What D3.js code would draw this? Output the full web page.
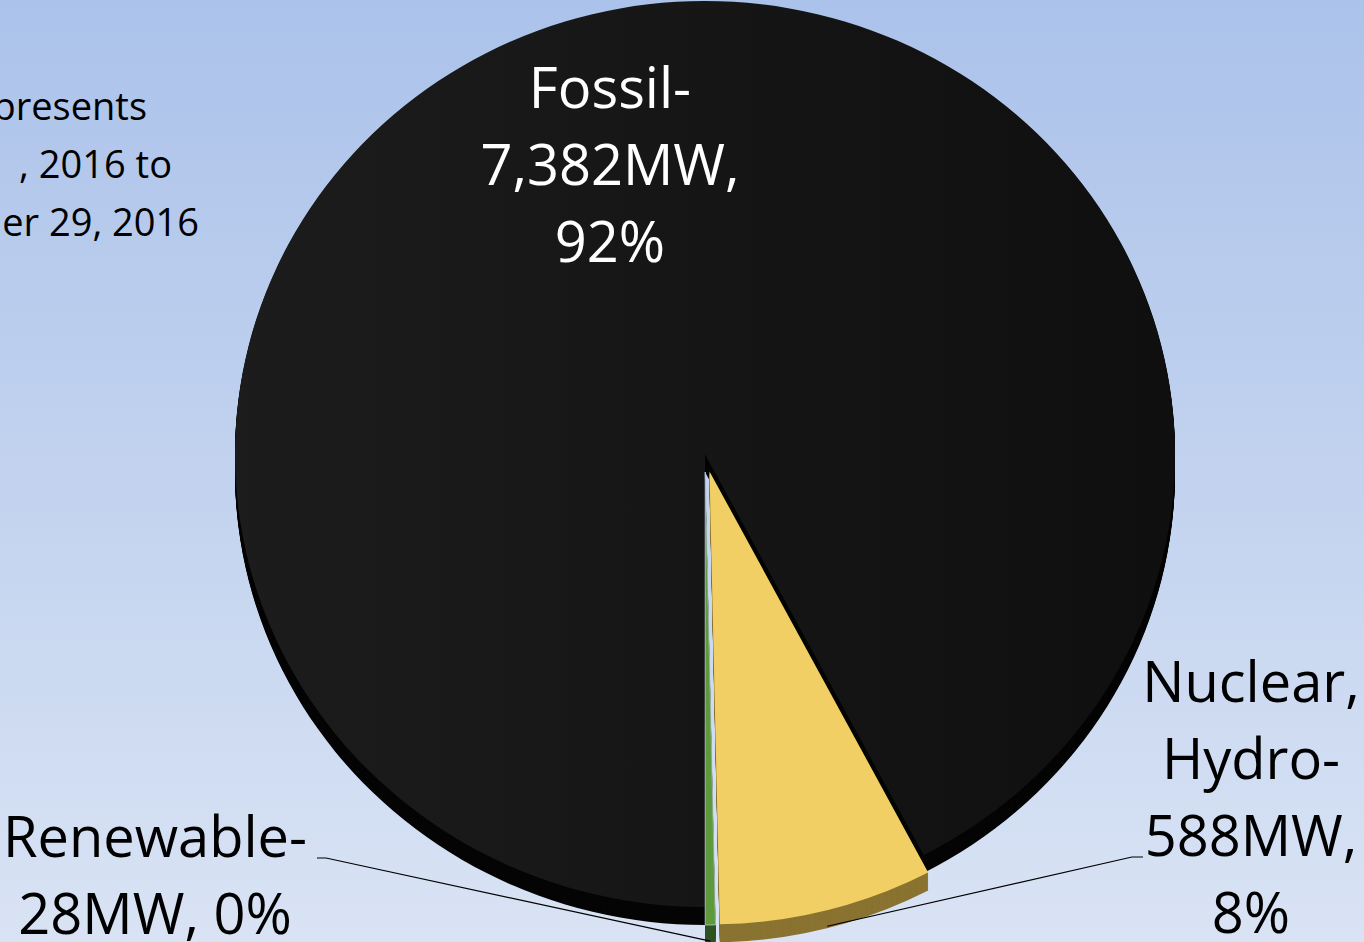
<!DOCTYPE html>
<html>
<head>
<meta charset="utf-8">
<script src="https://cdn.jsdelivr.net/npm/d3@7"></script>
<style>
  html, body { margin: 0; padding: 0; overflow: hidden; }
  svg { display: block; font-family: "Open Sans", "Noto Sans", sans-serif; }
</style>
</head>
<body>
<svg width="1364" height="942"></svg>
<script>
// data
var sources = ["Fossil", "Nuclear, Hydro", "Renewable"];
var megawatts = [7382, 588, 28];
var percents = ["92%", "8%", "0%"];
var topColors = ["#151515", "#f2cf64", "#5e9a3c"];
var sideColors = ["#050505", "#8a7331", "#2d5120"];
var explode = [0, 18, 18];

var fossilLabel = ["Fossil-", "7,382MW,", "92%"];
var nuclearLabel = ["Nuclear,", "Hydro-", "588MW,", "8%"];
var renewLabel = ["Renewable-", "28MW, 0%"];
var noteLines = ["presents", ", 2016 to", "er 29, 2016"];

var svg = d3.select("svg"),
	width = +svg.attr("width"),
	height = +svg.attr("height");

var cx = 705, cy = 454, rx = 470, ry = 453, depth = 18;

var defs = svg.append("defs");
var bg = defs.append("linearGradient").attr("id", "bg")
	.attr("x1", 0).attr("y1", 0).attr("x2", 0).attr("y2", 1);
bg.append("stop").attr("offset", "0%").attr("stop-color", "#abc2ea");
bg.append("stop").attr("offset", "100%").attr("stop-color", "#d9e3f4");

var blk = defs.append("linearGradient").attr("id", "blk")
	.attr("x1", 0).attr("y1", 0).attr("x2", 1).attr("y2", 0);
blk.append("stop").attr("offset", "0%").attr("stop-color", "#1c1c1c");
blk.append("stop").attr("offset", "100%").attr("stop-color", "#0f0f0f");

svg.append("rect")
	.attr("width", width)
	.attr("height", height)
	.attr("fill", "url(#bg)");

// note text, cut off at the left edge
svg.append("g")
	.attr("font-size", 38)
	.attr("fill", "#000")
	.attr("text-anchor", "end")
	.selectAll("text")
	.data(noteLines)
	.enter().append("text")
		.attr("x", function(d, i) { return [147, 172, 199][i]; })
		.attr("y", function(d, i) { return 120 + i * 58; })
		.text(function(d) { return d; });

var pie = d3.pie()
	.sort(null)
	.value(function(d) { return d; })
	.startAngle(Math.PI)
	.endAngle(3 * Math.PI);

var arcs = pie(megawatts);

var arc = d3.arc()
	.innerRadius(0)
	.outerRadius(rx);

function off(d, i) {
	var m = (d.startAngle + d.endAngle) / 2;
	return [explode[i] * Math.sin(m), -explode[i] * Math.cos(m)];
}

var sy = ry / rx;

// side walls: stacked copies from the bottom up
var sides = svg.append("g");
d3.range(depth, 0, -1).forEach(function(k) {
	sides.append("g")
		.selectAll("path")
		.data(arcs)
		.enter().append("path")
			.attr("transform", function(d, i) {
				var o = off(d, i);
				return "translate(" + (cx + o[0]) + "," + (cy + o[1] + k) + ") scale(1," + sy + ")";
			})
			.attr("d", arc)
			.attr("fill", function(d, i) { return sideColors[i]; });
});

// top faces
svg.append("g")
	.selectAll("path")
	.data(arcs)
	.enter().append("path")
		.attr("transform", function(d, i) {
			var o = off(d, i);
			return "translate(" + (cx + o[0]) + "," + (cy + o[1]) + ") scale(1," + sy + ")";
		})
		.attr("d", arc)
		.attr("fill", function(d, i) { return i === 0 ? "url(#blk)" : topColors[i]; })
		.attr("stroke", function(d, i) { return i === 2 ? "#b9c6da" : "none"; })
		.attr("stroke-width", 0.8);

// leader lines
function edgePoint(i) {
	var d = arcs[i], o = off(d, i), m = (d.startAngle + d.endAngle) / 2;
	return [cx + o[0] + rx * Math.sin(m), cy + o[1] - ry * Math.cos(m) + depth * 0.9];
}
var leaders = [
	[[317, 858], [326, 858], edgePoint(2)],
	[[1143, 857], [1132, 857], edgePoint(1)]
];
svg.append("g")
	.selectAll("path")
	.data(leaders)
	.enter().append("path")
		.attr("d", d3.line())
		.attr("fill", "none")
		.attr("stroke", "#000")
		.attr("stroke-width", 1.2);

// labels
function block(lines, x, y0, color) {
	svg.append("g")
		.attr("font-size", 56)
		.attr("fill", color)
		.attr("text-anchor", "middle")
		.selectAll("text")
		.data(lines)
		.enter().append("text")
			.attr("x", x)
			.attr("y", function(d, i) { return y0 + i * 77; })
			.text(function(d) { return d; });
}
block(fossilLabel, 610, 108, "#fff");
block(nuclearLabel, 1251, 702, "#000");
block(renewLabel, 155, 857, "#000");
</script>
</body>
</html>
